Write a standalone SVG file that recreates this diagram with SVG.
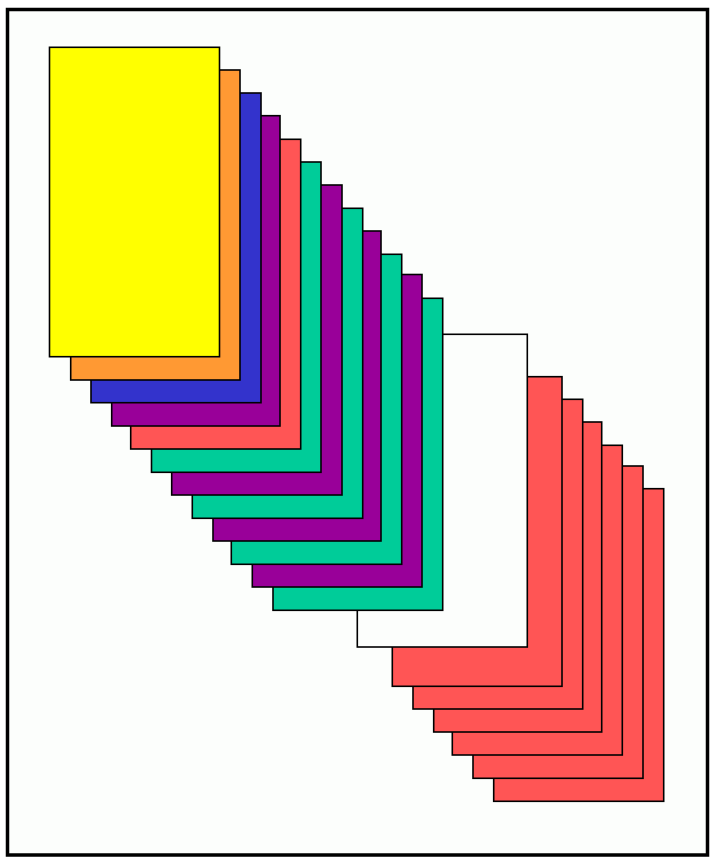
<svg xmlns="http://www.w3.org/2000/svg" width="711" height="860" viewBox="0 0 711 860">
<style>
.c{stroke:#000;stroke-width:1.6}
.y{fill:#ffff00}.o{fill:#ff9933}.b{fill:#3333cc}.p{fill:#990099}.r{fill:#ff5555}.g{fill:#00cc99}.w{fill:#fcfefc}
</style>
<rect x="0" y="0" width="711" height="860" fill="#ffffff"/>
<rect id="frame" x="7.5" y="9.5" width="700" height="845.5" fill="#fcfefc" stroke="#000" stroke-width="3.5"/>
<g id="red6"><rect class="c r" x="493.7" y="488.7" width="170" height="312.6"/></g>
<g id="red5"><rect class="c r" x="473" y="466" width="170" height="312.3"/></g>
<g id="red4"><rect class="c r" x="452.3" y="445.3" width="170" height="309.7"/></g>
<g id="red3"><rect class="c r" x="433.7" y="422" width="168" height="310"/></g>
<g id="red2"><rect class="c r" x="413" y="399.3" width="169.7" height="309.7"/></g>
<g id="red1"><rect class="c r" x="392.3" y="376.7" width="169.7" height="309.6"/></g>
<g id="white"><rect class="c w" x="357.3" y="334.3" width="170" height="312.7"/></g>
<g id="green12"><rect class="c g" x="273" y="298.3" width="169.7" height="312"/></g>
<g id="purple11"><rect class="c p" x="252.3" y="274.5" width="169.7" height="312.5"/></g>
<g id="green10"><rect class="c g" x="231.3" y="254.3" width="170.4" height="310"/></g>
<g id="purple9"><rect class="c p" x="213" y="231" width="168" height="310"/></g>
<g id="green8"><rect class="c g" x="192.3" y="208.3" width="170.4" height="310"/></g>
<g id="purple7"><rect class="c p" x="171.7" y="185" width="170.3" height="310"/></g>
<g id="green6"><rect class="c g" x="151.5" y="162" width="169.5" height="310.3"/></g>
<g id="red5b"><rect class="c r" x="130.7" y="139.3" width="170" height="309.7"/></g>
<g id="purple4"><rect class="c p" x="111.7" y="115.7" width="168.3" height="310.3"/></g>
<g id="blue3"><rect class="c b" x="91" y="93" width="170" height="309.7"/></g>
<g id="orange2"><rect class="c o" x="70.7" y="70" width="169.3" height="310"/></g>
<g id="yellow1"><rect class="c y" x="49.5" y="47.3" width="170" height="309.4"/></g>
</svg>
